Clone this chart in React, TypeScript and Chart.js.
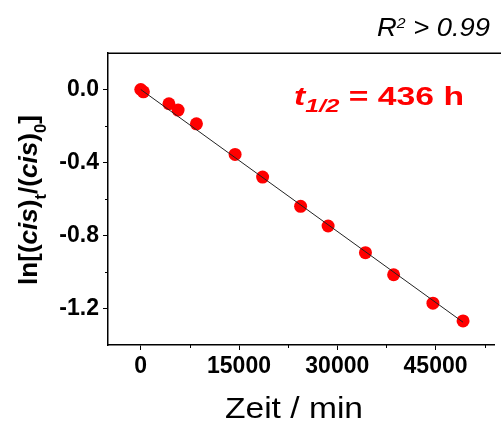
import React, { useEffect, useRef } from "react";
import { Chart, registerables } from "chart.js";

Chart.register(...registerables);

// ---- data ----
const timeMin = [0, 400, 4300, 5700, 8500, 14400, 18600, 24400, 28600, 34300, 38600, 44600, 49200];
const lnRatio = [0, -0.013, -0.078, -0.113, -0.188, -0.356, -0.48, -0.64, -0.748, -0.894, -1.015, -1.171, -1.268];
const fitX = [0, 49200];
const fitY = [0, -1.275];
const xTicks = [0, 15000, 30000, 45000];
const xMinorTicks = [7500, 22500, 37500, 52500];
const yTicks = [0, -0.4, -0.8, -1.2];
const yMinorTicks = [-0.2, -0.6, -1.0];
const xTitle = "Zeit / min";
const r2Label = ["R", "2", " > 0.99"];
const halfLifeLabel = ["t", "1/2", " = 436 h"];

const FAMILY = "'Liberation Sans', Arial, sans-serif";

type Run = { text: string; font: string; dy: number };

function drawRuns(
  ctx: CanvasRenderingContext2D,
  runs: Run[],
  x: number,
  y: number,
  targetWidth: number,
  color: string,
  center = false
) {
  let natural = 0;
  const widths: number[] = [];
  for (const r of runs) {
    ctx.font = r.font;
    const w = ctx.measureText(r.text).width;
    widths.push(w);
    natural += w;
  }
  const sx = targetWidth / natural;
  ctx.save();
  ctx.translate(center ? x - targetWidth / 2 : x, y);
  ctx.scale(sx, 1);
  ctx.fillStyle = color;
  ctx.textBaseline = "alphabetic";
  ctx.textAlign = "left";
  let cx = 0;
  runs.forEach((r, i) => {
    ctx.font = r.font;
    ctx.fillText(r.text, cx, r.dy);
    cx += widths[i];
  });
  ctx.restore();
}

const decorPlugin = {
  id: "decor",
  afterDraw(chart: any) {
    const ctx: CanvasRenderingContext2D = chart.ctx;
    const area = chart.chartArea;
    const xs = chart.scales.x;
    const ys = chart.scales.y;
    ctx.save();
    // top frame line
    ctx.strokeStyle = "#000";
    ctx.lineWidth = 1.5;
    ctx.beginPath();
    ctx.moveTo(area.left, Math.round(area.top) + 0.25);
    ctx.lineTo(chart.width, Math.round(area.top) + 0.25);
    ctx.stroke();
    // minor ticks
    ctx.lineWidth = 1;
    ctx.beginPath();
    for (const v of xMinorTicks) {
      const px = Math.round(xs.getPixelForValue(v)) + 0.5;
      ctx.moveTo(px, area.bottom);
      ctx.lineTo(px, area.bottom + 3);
    }
    for (const v of yMinorTicks) {
      const py = Math.round(ys.getPixelForValue(v)) + 0.5;
      ctx.moveTo(area.left, py);
      ctx.lineTo(area.left - 3, py);
    }
    ctx.stroke();
    ctx.restore();

    // R^2 label
    drawRuns(
      ctx,
      [
        { text: r2Label[0], font: `italic 26px ${FAMILY}`, dy: 0 },
        { text: r2Label[1], font: `italic 15px ${FAMILY}`, dy: -7.5 },
        { text: r2Label[2], font: `italic 26px ${FAMILY}`, dy: 0 },
      ],
      377,
      35.5,
      113,
      "#000"
    );

    // half-life label
    drawRuns(
      ctx,
      [
        { text: halfLifeLabel[0], font: `italic bold 26px ${FAMILY}`, dy: 0 },
        { text: halfLifeLabel[1], font: `italic bold 19px ${FAMILY}`, dy: 7 },
        { text: halfLifeLabel[2], font: `bold 26px ${FAMILY}`, dy: 0 },
      ],
      294,
      105,
      170,
      "#ff0000"
    );

    // x title
    drawRuns(ctx, [{ text: xTitle, font: `30px ${FAMILY}`, dy: 0 }], 225, 418, 138, "#000");

    // y title (rotated)
    ctx.save();
    ctx.translate(36.5, (area.top + area.bottom) / 2 + 1);
    ctx.rotate(-Math.PI / 2);
    const main = `bold 25px ${FAMILY}`;
    const mainIt = `italic bold 25px ${FAMILY}`;
    const sub = `bold 16px ${FAMILY}`;
    drawRuns(
      ctx,
      [
        { text: "ln[(", font: main, dy: 0 },
        { text: "cis", font: mainIt, dy: 0 },
        { text: ")", font: main, dy: 0 },
        { text: "t", font: sub, dy: 9 },
        { text: "/(", font: main, dy: 0 },
        { text: "cis", font: mainIt, dy: 0 },
        { text: ")", font: main, dy: 0 },
        { text: "0", font: sub, dy: 9 },
        { text: "]", font: main, dy: 0 },
      ],
      0,
      0,
      170,
      "#000",
      true
    );
    ctx.restore();
  },
};

export default function App() {
  const ref = useRef<HTMLCanvasElement | null>(null);
  useEffect(() => {
    if (!ref.current) return;
    const tickFont = { family: FAMILY, size: 23, weight: "bold" as const };
    const chart = new Chart(ref.current, {
      type: "scatter",
      data: {
        datasets: [
          {
            data: fitX.map((x, i) => ({ x, y: fitY[i] })),
            showLine: true,
            borderColor: "#222",
            borderWidth: 1,
            pointRadius: 0,
            order: 0,
          },
          {
            data: timeMin.map((x, i) => ({ x, y: lnRatio[i] })),
            backgroundColor: "#ff0000",
            borderColor: "#ff0000",
            borderWidth: 0,
            pointRadius: 6.5,
            order: 1,
          },
        ],
      },
      options: {
        responsive: false,
        animation: false,
        layout: { padding: { top: 53, left: 0, right: 0, bottom: 0 } },
        plugins: {
          legend: { display: false },
          tooltip: { enabled: false },
        },
        scales: {
          x: {
            type: "linear",
            min: -5000,
            max: 54000,
            afterBuildTicks: (s: any) => {
              s.ticks = xTicks.map((v) => ({ value: v }));
            },
            afterFit: (s: any) => {
              s.height = 78;
            },
            grid: { drawOnChartArea: false, tickLength: 5, color: "#000", tickWidth: 1 },
            border: { color: "#000", width: 1.5 },
            ticks: {
              font: tickFont,
              color: "#000",
              padding: 3,
              maxRotation: 0,
              autoSkip: false,
              callback: (v: any) => String(v),
            },
          },
          y: {
            type: "linear",
            min: -1.4,
            max: 0.2,
            afterBuildTicks: (s: any) => {
              s.ticks = yTicks.map((v) => ({ value: v }));
            },
            afterFit: (s: any) => {
              s.width = 108;
            },
            grid: { drawOnChartArea: false, tickLength: 5, color: "#000", tickWidth: 1 },
            border: { color: "#000", width: 1.5 },
            ticks: {
              font: tickFont,
              color: "#000",
              padding: 4,
              autoSkip: false,
              callback: (v: any) => Number(v).toFixed(1),
            },
          },
        },
      },
      plugins: [decorPlugin],
    });
    return () => chart.destroy();
  }, []);

  return (
    <div style={{ position: "absolute", left: 0, top: 0, width: 501, height: 423, background: "#fff" }}>
      <canvas ref={ref} width={501} height={423} style={{ display: "block" }} />
    </div>
  );
}
